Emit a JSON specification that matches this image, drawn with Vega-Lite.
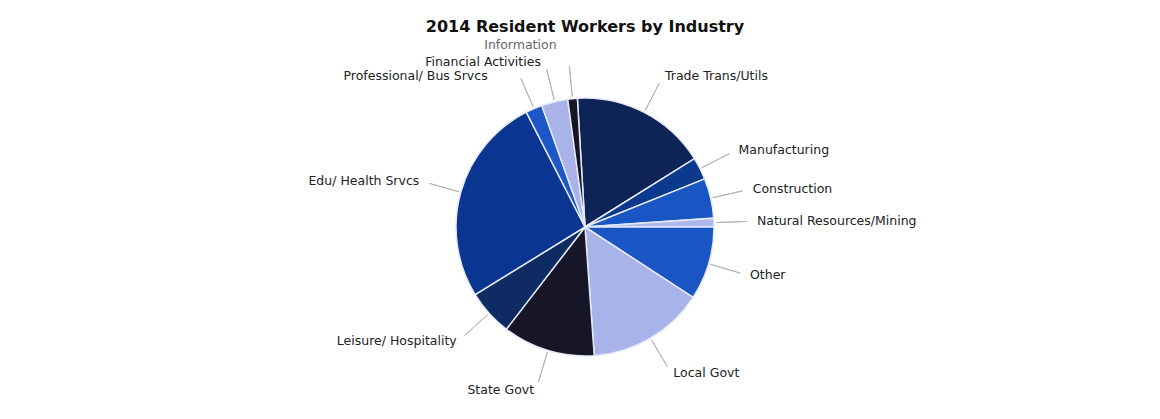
{
  "$schema": "https://vega.github.io/schema/vega-lite/v6.json",
  "autosize": {"type": "fit", "contains": "padding"},
  "width": 1160,
  "height": 419,
  "padding": {"left": 10, "right": 0, "top": 19, "bottom": 4},
  "background": "white",
  "config": {"view": {"stroke": null}},
  "title": {"text": "2014 Resident Workers by Industry", "font": "DejaVu Sans", "fontSize": 16, "fontWeight": "bold", "color": "#111111", "anchor": "middle", "offset": 4},
  "data": {"values": [
    {"industry": "Trade Trans/Utils", "pct": 17.1, "order": 1},
    {"industry": "Manufacturing", "pct": 2.8, "order": 2},
    {"industry": "Construction", "pct": 5.0, "order": 3},
    {"industry": "Natural Resources/Mining", "pct": 1.1, "order": 4},
    {"industry": "Other", "pct": 9.2, "order": 5},
    {"industry": "Local Govt", "pct": 14.7, "order": 6},
    {"industry": "State Govt", "pct": 11.6, "order": 7},
    {"industry": "Leisure/ Hospitality", "pct": 5.8, "order": 8},
    {"industry": "Edu/ Health Srvcs", "pct": 26.3, "order": 9},
    {"industry": "Professional/ Bus Srvcs", "pct": 2.1, "order": 10},
    {"industry": "Financial Activities", "pct": 3.3, "order": 11},
    {"industry": "Information", "pct": 1.2, "order": 12}
  ]},
  "encoding": {
    "theta": {"field": "pct", "type": "quantitative", "stack": true, "scale": {"range": [-0.0593, 6.2239]}},
    "order": {"field": "order", "type": "quantitative"}
  },
  "layer": [
    {
      "mark": {"type": "arc", "outerRadius": 129, "stroke": "#e4e9f7", "strokeWidth": 1.5},
      "encoding": {
        "color": {"field": "industry", "type": "nominal", "legend": null,
          "scale": {
            "domain": ["Trade Trans/Utils", "Manufacturing", "Construction", "Natural Resources/Mining", "Other", "Local Govt", "State Govt", "Leisure/ Hospitality", "Edu/ Health Srvcs", "Professional/ Bus Srvcs", "Financial Activities", "Information"],
            "range": ["#0f2456", "#0b3a8c", "#1a55c4", "#aeb8ea", "#1a55c4", "#a8b3ea", "#161628", "#0e2c63", "#0a3591", "#1d56c6", "#a9b3ea", "#151525"]
          }}
      }
    },
    {
      "mark": {"type": "arc", "filled": false, "stroke": "#b4b4b4", "strokeWidth": 1, "padAngle": 3.1},
      "encoding": {
        "radius": {"value": 162},
        "radius2": {"value": 131}
      }
    },
    {
      "mark": {"type": "text", "radius": 170, "align": "left", "baseline": "middle", "dx": 2, "font": "DejaVu Sans", "fontSize": 12.5, "color": "#222222"},
      "encoding": {"text": {"condition": {"test": "datum.order <= 6", "field": "industry"}, "value": ""}}
    },
    {
      "mark": {"type": "text", "radius": 170, "align": "right", "baseline": "middle", "dx": -2, "font": "DejaVu Sans", "fontSize": 12.5, "color": "#222222"},
      "encoding": {"text": {"condition": {"test": "datum.order >= 7 && datum.order <= 9", "field": "industry"}, "value": ""}}
    },
    {
      "mark": {"type": "text", "radius": 170, "align": "right", "baseline": "middle", "dx": -4, "dy": 0, "font": "DejaVu Sans", "fontSize": 12.5, "color": "#222222"},
      "encoding": {"text": {"condition": {"test": "datum.order == 11", "field": "industry"}, "value": ""}}
    },
    {
      "mark": {"type": "text", "radius": 170, "align": "right", "baseline": "middle", "dx": -30, "dy": 5, "font": "DejaVu Sans", "fontSize": 12.5, "color": "#222222"},
      "encoding": {"text": {"condition": {"test": "datum.order == 10", "field": "industry"}, "value": ""}}
    },
    {
      "mark": {"type": "text", "radius": 170, "align": "right", "baseline": "middle", "dx": -12, "dy": -13, "font": "DejaVu Sans", "fontSize": 12.5, "color": "#666666"},
      "encoding": {"text": {"condition": {"test": "datum.order == 12", "field": "industry"}, "value": ""}}
    }
  ]
}
